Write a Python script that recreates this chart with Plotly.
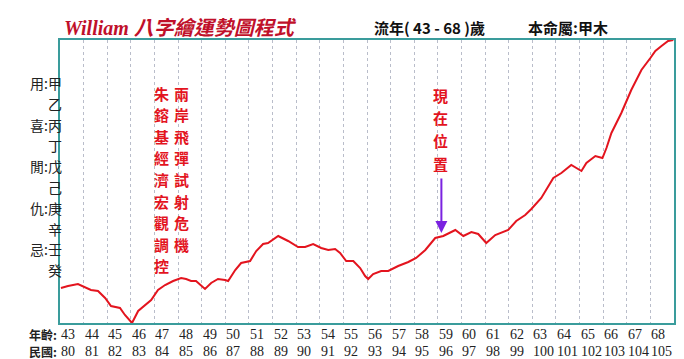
import plotly.graph_objects as go

# ---------------- data ----------------
ages = [43.04, 43.34, 43.76, 43.97, 44.31, 44.61, 44.91, 45.16, 45.54, 45.75, 46.05,
        46.31, 46.60, 46.86, 47.15, 47.45, 47.79, 48.13, 48.34, 48.55, 48.76, 49.14,
        49.40, 49.69, 49.99, 50.12, 50.42, 50.67, 51.05, 51.31, 51.60, 51.81, 52.24,
        52.66, 53.08, 53.38, 53.72, 54.06, 54.36, 54.65, 54.86, 55.12, 55.42, 55.71,
        55.92, 56.05, 56.26, 56.60, 56.90, 57.32, 57.75, 58.08, 58.47, 58.89, 59.23,
        59.74, 60.08, 60.42, 60.71, 61.05, 61.43, 61.69, 61.98, 62.32, 62.70, 62.96,
        63.38, 63.89, 64.23, 64.65, 64.86, 65.08, 65.29, 65.67, 65.97, 66.14, 66.35,
        66.77, 67.19, 67.62, 68.00, 68.21, 68.47, 68.75, 68.97]
fortune = [35, 37, 39, 37, 33, 32, 25, 17, 15, 8, 0,
           12, 18, 23, 33, 38, 42, 45, 44, 42, 42, 34,
           40, 44, 43, 42, 53, 60, 62, 72, 79, 80, 87,
           82, 76, 76, 79, 75, 73, 74, 70, 62, 62, 55,
           47, 44, 49, 52, 52, 57, 61, 65, 73, 85, 87,
           93, 87, 91, 89, 80, 88, 90, 93, 102, 108, 114,
           125, 145, 150, 158, 155, 152, 160, 167, 165, 175, 190,
           210, 233, 253, 265, 272, 277, 282, 283]

age_ticks = list(range(43, 69))
roc_ticks = list(range(80, 106))

roles = ["用", "喜", "閒", "仇", "忌"]
stems = ["甲", "乙", "丙", "丁", "戊", "己", "庚", "辛", "壬", "癸"]

title_text = "William 八字繪運勢圖程式"
period_text = "流年( 43 - 68 )歲"
nature_text = "本命屬:甲木"
event1 = "朱鎔基經濟宏觀調控"
event2 = "兩岸飛彈試射危機"
now_text = "現在位置"
now_age = 59.15
now_val = 90

# ---------------- layout helpers ----------------
W, H = 684, 359
L, R, T, B = 52, 666, 32, 315
ROW1, ROW2 = 326, 343


def px_x(px):
    return (px - L) / (R - L)


def px_y(py):
    return (B - py) / (B - T)


FRAME = "#3a9c9c"
RED = "#e3141e"

fig = go.Figure()
fig.add_trace(go.Scatter(x=ages, y=fortune, mode="lines",
                         line=dict(color=RED, width=2), hoverinfo="skip"))

ann = []
# title row
ann.append(dict(text="<b><i>" + title_text + "</i></b>", xref="paper", yref="paper",
                x=px_x(54), y=px_y(20), xanchor="left", yanchor="middle", showarrow=False,
                font=dict(family="Liberation Serif, Noto Sans CJK TC", size=20, color="#c0102a")))
ann.append(dict(text="<b>" + period_text + "</b>", xref="paper", yref="paper",
                x=px_x(364), y=px_y(20), xanchor="left", yanchor="middle", showarrow=False,
                font=dict(family="Noto Sans CJK TC", size=15, color="#111")))
ann.append(dict(text="<b>" + nature_text + "</b>", xref="paper", yref="paper",
                x=px_x(518), y=px_y(20), xanchor="left", yanchor="middle", showarrow=False,
                font=dict(family="Noto Sans CJK TC", size=15, color="#111")))

# left stems / roles
for i, s in enumerate(stems):
    label = (roles[i // 2] + ":" + s) if i % 2 == 0 else s
    ann.append(dict(text=label, xref="paper", yref="paper", x=px_x(55), y=px_y(75 + i * 20.8),
                    xanchor="right", yanchor="middle", showarrow=False, borderpad=0,
                    font=dict(family="Noto Sans CJK TC", size=14, color="#222")))

# bottom labels
ann.append(dict(text="<b>年齡:</b>", xref="paper", yref="paper", x=px_x(50), y=px_y(ROW1),
                xanchor="right", yanchor="middle", showarrow=False, borderpad=0,
                font=dict(family="Noto Sans CJK TC", size=12, color="#222")))
ann.append(dict(text="<b>民國:</b>", xref="paper", yref="paper", x=px_x(50), y=px_y(ROW2),
                xanchor="right", yanchor="middle", showarrow=False, borderpad=0,
                font=dict(family="Noto Sans CJK TC", size=12, color="#222")))
for a, r in zip(age_ticks, roc_ticks):
    ann.append(dict(text=str(a), xref="x", yref="paper", x=a, y=px_y(ROW1), xshift=0,
                    xanchor="left", yanchor="middle", showarrow=False, borderpad=0,
                    font=dict(family="Liberation Serif", size=14, color="#222")))
    ann.append(dict(text=str(r), xref="x", yref="paper", x=a, y=px_y(ROW2), xshift=0,
                    xanchor="left", yanchor="middle", showarrow=False, borderpad=0,
                    font=dict(family="Liberation Serif", size=14, color="#222")))

# vertical red event texts
for j, ch in enumerate(event1):
    ann.append(dict(text="<b>" + ch + "</b>", xref="paper", yref="paper", x=px_x(153),
                    y=px_y(85 + j * 21.6), xanchor="center", yanchor="middle", showarrow=False,
                    font=dict(family="Noto Sans CJK TC", size=15, color=RED)))
for j, ch in enumerate(event2):
    ann.append(dict(text="<b>" + ch + "</b>", xref="paper", yref="paper", x=px_x(173),
                    y=px_y(85 + j * 21.6), xanchor="center", yanchor="middle", showarrow=False,
                    font=dict(family="Noto Sans CJK TC", size=15, color=RED)))
for j, ch in enumerate(now_text):
    ann.append(dict(text="<b>" + ch + "</b>", xref="paper", yref="paper", x=px_x(432),
                    y=px_y(87 + j * 22.7), xanchor="center", yanchor="middle", showarrow=False,
                    font=dict(family="Noto Sans CJK TC", size=15, color=RED)))

# arrow to current position
ann.append(dict(text="", x=now_age, y=now_val, xref="x", yref="y", ax=0, ay=-56,
                showarrow=True, arrowhead=2, arrowsize=1.2, arrowwidth=2,
                arrowcolor="#7a22e0", standoff=0))

fig.update_layout(
    width=W, height=H,
    margin=dict(l=L, r=W - R, t=T, b=H - B),
    paper_bgcolor="white", plot_bgcolor="white",
    showlegend=False,
    annotations=ann,
    xaxis=dict(range=[43, 69], tickvals=list(range(44, 69)), showticklabels=False,
               showgrid=True, gridcolor="#b9bdca", griddash="dot", gridwidth=1,
               showline=True, linecolor=FRAME, linewidth=2, mirror=True, ticks="",
               zeroline=False, fixedrange=True),
    yaxis=dict(range=[0, 283], showticklabels=False, showgrid=False, zeroline=False,
               showline=True, linecolor=FRAME, linewidth=2, mirror=True, ticks="",
               fixedrange=True),
)

fig.write_html("out.html", config={"displayModeBar": False})
